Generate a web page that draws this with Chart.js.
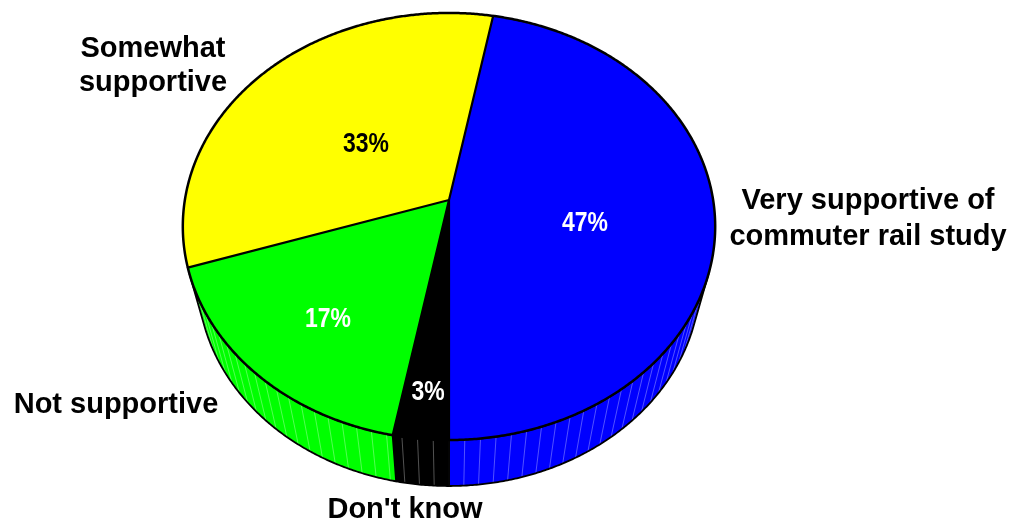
<!DOCTYPE html>
<html>
<head>
<meta charset="utf-8">
<script src="https://cdn.jsdelivr.net/npm/chart.js@4/dist/chart.umd.min.js"></script>
<style>
  html, body { margin: 0; padding: 0; background: #ffffff; overflow: hidden; }
  canvas { display: block; }
</style>
</head>
<body>
<canvas id="chart" width="1011" height="525"></canvas>
<script>
// Survey answers, clockwise from the first slice
const categories = [
  ['Very supportive of', 'commuter rail study'],
  ["Don't know"],
  ['Not supportive'],
  ['Somewhat', 'supportive']
];
const shares = [47, 3, 17, 33];
const sliceColors = ['#0000ff', '#000000', '#00ff00', '#ffff00'];
const percentTextColors = ['#ffffff', '#ffffff', '#ffffff', '#000000'];

// Text placement (baseline positions)
const categoryLabelPos = [
  { x: 868, y: 209, gap: 36 },
  { x: 405, y: 518, gap: 0 },
  { x: 116, y: 413, gap: 0 },
  { x: 153, y: 57, gap: 34 }
];
const percentLabelPos = [
  { x: 585, y: 231 },
  { x: 428, y: 400 },
  { x: 328, y: 327 },
  { x: 366, y: 152 }
];

// Perspective camera for the tilted disc
const view = { cx: 449, cy: 200, k: 1289, D: 4.88, sinE: 0.796, cosE: 0.605, h: 0.356 };

// theta: clockwise from the far side of the disc; r: fraction of radius; z: height (0 = top face)
function project(theta, r, z) {
  const X = r * Math.sin(theta);
  const Y = r * Math.cos(theta);
  const w = view.D + Y * view.cosE - z * view.sinE;
  return {
    x: view.cx + view.k * X / w,
    y: view.cy - view.k * (Y * view.sinE + z * view.cosE) / w
  };
}

const DEG = Math.PI / 180;

function arcPoints(a0, a1, r, z) {
  const n = Math.max(2, Math.ceil(Math.abs(a1 - a0) / (0.4 * DEG)));
  const pts = [];
  for (let i = 0; i <= n; i++) pts.push(project(a0 + (a1 - a0) * i / n, r, z));
  return pts;
}

const pie3d = {
  id: 'pie3d',
  beforeDatasetsDraw(chart) {
    const ctx = chart.ctx;
    const arcs = chart.getDatasetMeta(0).data;
    const slices = arcs.map((arc, i) => ({
      a0: arc.startAngle + Math.PI / 2,
      a1: arc.endAngle + Math.PI / 2,
      color: sliceColors[i]
    }));

    // front-facing part of the outer wall
    const tv0 = Math.acos(-1 / (view.D * view.cosE));
    const tv1 = 2 * Math.PI - tv0;

    ctx.save();
    ctx.lineJoin = 'round';
    ctx.lineCap = 'round';

    // side walls
    slices.forEach(s => {
      [-2 * Math.PI, 0, 2 * Math.PI].forEach(off => {
        const lo = Math.max(s.a0, tv0 + off);
        const hi = Math.min(s.a1, tv1 + off);
        if (hi <= lo) return;
        const top = arcPoints(lo, hi, 1, 0);
        const bot = arcPoints(hi, lo, 1, -view.h);
        ctx.beginPath();
        top.concat(bot).forEach((p, i) => i ? ctx.lineTo(p.x, p.y) : ctx.moveTo(p.x, p.y));
        ctx.closePath();
        ctx.fillStyle = s.color;
        ctx.fill();

        // shading streaks on the wall
        ctx.strokeStyle = 'rgba(255,255,255,0.32)';
        ctx.lineWidth = 1;
        const step = 3 * DEG;
        for (let t = Math.ceil(lo / step) * step; t < hi; t += step) {
          const p = project(t, 1, 0), q = project(t, 1, -view.h);
          ctx.beginPath();
          ctx.moveTo(p.x, p.y);
          ctx.lineTo(q.x, q.y);
          ctx.stroke();
        }

        ctx.beginPath();
        top.concat(bot).forEach((p, i) => i ? ctx.lineTo(p.x, p.y) : ctx.moveTo(p.x, p.y));
        ctx.closePath();
        ctx.strokeStyle = '#000000';
        ctx.lineWidth = 1.8;
        ctx.stroke();
      });
    });

    // top face
    const c = project(0, 0, 0);
    slices.forEach(s => {
      ctx.beginPath();
      ctx.moveTo(c.x, c.y);
      arcPoints(s.a0, s.a1, 1, 0).forEach(p => ctx.lineTo(p.x, p.y));
      ctx.closePath();
      ctx.fillStyle = s.color;
      ctx.fill();
    });
    ctx.strokeStyle = '#000000';
    ctx.lineWidth = 2.2;
    slices.forEach(s => {
      ctx.beginPath();
      ctx.moveTo(c.x, c.y);
      const p = project(s.a0, 1, 0);
      ctx.lineTo(p.x, p.y);
      ctx.stroke();
    });
    ctx.lineWidth = 2.5;
    ctx.beginPath();
    arcPoints(0, 2 * Math.PI, 1, 0).forEach((p, i) => i ? ctx.lineTo(p.x, p.y) : ctx.moveTo(p.x, p.y));
    ctx.closePath();
    ctx.stroke();

    ctx.restore();
    return false;
  },
  afterDraw(chart) {
    const ctx = chart.ctx;
    const total = shares.reduce((a, b) => a + b, 0);
    ctx.save();
    ctx.textAlign = 'center';
    ctx.textBaseline = 'alphabetic';

    // percentages, narrow bold face
    ctx.font = 'bold 28px "Liberation Sans", Arial, sans-serif';
    shares.forEach((v, i) => {
      const pos = percentLabelPos[i];
      ctx.save();
      ctx.translate(pos.x, pos.y);
      ctx.scale(0.82, 1);
      ctx.fillStyle = percentTextColors[i];
      ctx.fillText(Math.round(v / total * 100) + '%', 0, 0);
      ctx.restore();
    });

    // category names
    ctx.font = 'bold 29px "Liberation Sans", Arial, sans-serif';
    ctx.fillStyle = '#000000';
    chart.data.labels.forEach((lines, i) => {
      const pos = categoryLabelPos[i];
      lines.forEach((line, j) => ctx.fillText(line, pos.x, pos.y + j * pos.gap));
    });
    ctx.restore();
  }
};

new Chart(document.getElementById('chart'), {
  type: 'pie',
  data: {
    labels: categories,
    datasets: [{
      data: shares,
      backgroundColor: sliceColors,
      borderColor: '#000000',
      borderWidth: 2
    }]
  },
  options: {
    responsive: false,
    animation: false,
    // first slice ends at the near side of the disc
    rotation: 180 - 360 * shares[0] / shares.reduce((a, b) => a + b, 0),
    plugins: {
      legend: { display: false },
      tooltip: { enabled: false }
    }
  },
  plugins: [pie3d]
});
</script>
</body>
</html>
